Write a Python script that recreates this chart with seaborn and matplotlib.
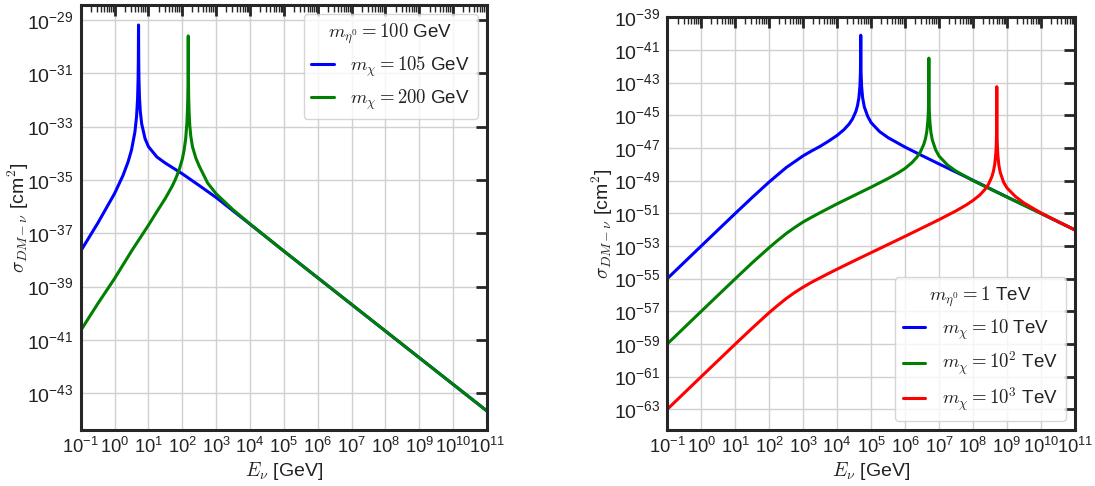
import numpy as np
import pandas as pd
import matplotlib
matplotlib.use("Agg")
import matplotlib.pyplot as plt
import matplotlib.ticker as mticker
import seaborn as sns

# ---------------- data (log10 values) ----------------
# Left panel: m_eta0 = 100 GeV
L_blue_logE = [-1.0, -0.5, 0.0, 0.25, 0.4, 0.5, 0.6, 0.65, 0.68, 0.695, 0.702, 0.705, 0.7076,
               0.7105, 0.714, 0.72, 0.735, 0.76, 0.8, 0.9, 1.0, 1.25, 1.5, 1.75, 2.0, 2.5, 3.0, 3.5,
               4.0, 5.0, 6.0, 8.0, 11.0]
L_blue_logS = [-37.67, -36.63, -35.51, -34.83, -34.32, -33.88, -33.21, -32.62, -31.95, -31.25, -30.54, -29.86, -29.19,
               -29.99, -30.65, -31.22, -31.9, -32.43, -32.89, -33.45, -33.75, -34.14, -34.37, -34.57, -34.77, -35.21, -35.66, -36.16,
               -36.66, -37.67, -38.67, -40.67, -43.67]
L_green_logE = [-1.0, -0.5, 0.0, 0.5, 1.0, 1.25, 1.5, 1.7, 1.8, 1.9, 2.0, 2.05, 2.1, 2.14, 2.16, 2.17, 2.174, 2.1761,
                2.178, 2.182, 2.19, 2.2, 2.22, 2.25, 2.3, 2.4, 2.5, 2.75, 3.0, 3.5, 4.0, 5.0, 6.0, 8.0, 11.0]
L_green_logS = [-40.65, -39.65, -38.7, -37.67, -36.7, -36.19, -35.69, -35.24, -34.97, -34.65, -34.22, -33.91, -33.46, -32.8, -32.1, -31.25, -30.29, -29.6,
                -30.29, -31.23, -31.96, -32.42, -32.94, -33.35, -33.75, -34.18, -34.48, -35.12, -35.52, -36.12, -36.65, -37.67, -38.67, -40.67, -43.67]

# Right panel: m_eta0 = 1 TeV
R_blue_logE = [-1.0, 0.0, 1.0, 1.5, 2.0, 2.25, 2.5, 2.75, 3.0, 3.25, 3.5, 3.75, 4.0, 4.2, 4.35, 4.45, 4.55, 4.6,
               4.64, 4.67, 4.685, 4.691, 4.6946, 4.698, 4.704, 4.72, 4.75, 4.8, 4.9, 5.0, 5.25, 5.5, 6.0, 6.5,
               7.0, 8.0, 9.0, 10.0, 11.0]
R_blue_logS = [-55.0, -53.0, -51.01, -50.03, -49.08, -48.64, -48.2, -47.84, -47.48, -47.18, -46.9, -46.58, -46.23, -45.88, -45.54, -45.23, -44.77, -44.4,
               -43.92, -43.23, -42.41, -41.56, -40.1, -41.5, -42.39, -43.25, -43.93, -44.49, -45.07, -45.45, -46.0, -46.37, -46.95, -47.47,
               -47.98, -48.98, -50.0, -51.0, -52.02]
R_green_logE = [-1.0, 0.0, 1.0, 1.5, 2.0, 2.25, 2.5, 2.75, 3.0, 3.25, 3.5, 3.75, 4.0, 4.5, 5.0, 5.5, 5.8, 6.0, 6.2, 6.35,
                6.45, 6.55, 6.6, 6.64, 6.67, 6.685, 6.694, 6.697, 6.699, 6.701, 6.704, 6.713, 6.73, 6.76, 6.8, 6.9,
                7.0, 7.25, 7.5, 8.0, 8.5, 9.0, 10.0, 11.0]
R_green_logS = [-59.0, -57.0, -55.01, -54.03, -53.1, -52.66, -52.24, -51.87, -51.53, -51.24, -50.96, -50.69, -50.42, -49.91, -49.4, -48.87, -48.52, -48.25, -47.9, -47.56,
                -47.24, -46.78, -46.43, -45.98, -45.36, -44.72, -43.83, -43.05, -41.5, -43.04, -43.83, -44.73, -45.41, -46.05, -46.5, -47.12,
                -47.5, -48.05, -48.42, -49.0, -49.51, -50.01, -51.01, -52.02]
R_red_logE = [-1.0, 0.0, 1.0, 1.5, 2.0, 2.25, 2.5, 2.75, 3.0, 3.25, 3.5, 3.75, 4.0, 4.5, 5.0, 5.5, 6.0, 6.5, 7.0, 7.5,
              7.8, 8.0, 8.2, 8.35, 8.45, 8.55, 8.6, 8.64, 8.67, 8.685, 8.694, 8.697, 8.699, 8.701, 8.704, 8.713,
              8.73, 8.76, 8.8, 8.9, 9.0, 9.25, 9.5, 10.0, 10.5, 11.0]
R_red_logS = [-63.0, -61.0, -59.01, -58.03, -57.08, -56.64, -56.22, -55.85, -55.52, -55.22, -54.95, -54.68, -54.42, -53.91, -53.41, -52.91, -52.41, -51.9, -51.39, -50.85,
              -50.49, -50.21, -49.88, -49.54, -49.24, -48.78, -48.43, -47.98, -47.36, -46.72, -45.83, -45.04, -43.25, -45.04, -45.83, -46.73,
              -47.45, -48.05, -48.5, -49.1, -49.45, -49.98, -50.37, -50.98, -51.51, -52.02]

left_labels = [r"$m_\chi = 105$ GeV", r"$m_\chi = 200$ GeV"]
left_title = r"$m_{\eta^0} = 100$ GeV"
right_labels = [r"$m_\chi = 10$ TeV", r"$m_\chi = 10^2$ TeV", r"$m_\chi = 10^3$ TeV"]
right_title = r"$m_{\eta^0} = 1$ TeV"
colors_left = ["blue", "green"]
colors_right = ["blue", "green", "red"]

left_ytick_exps = list(range(-43, -28, 2))
right_ytick_exps = list(range(-63, -38, 2))
xtick_exps = list(range(-1, 12))

# ---------------- style ----------------
sns.set_style("whitegrid")
plt.rcParams["font.family"] = ["Liberation Sans", "DejaVu Sans"]
plt.rcParams["mathtext.fontset"] = "cm"

fig = plt.figure(figsize=(10.95, 4.86), dpi=100)
axL = fig.add_axes([0.0737, 0.1152, 0.3711, 0.8745])
axR = fig.add_axes([0.6094, 0.1152, 0.3723, 0.8492])


def fmt(v, pos):
    e = int(round(np.log10(v)))
    return r"$\mathregular{10^{%d}}$" % e


def draw(ax, series, labels, colors, yexps, ylim_exp, title, loc, ylab_x):
    for (lx, ly), lab, c in zip(series, labels, colors):
        df = pd.DataFrame({"E": 10.0 ** np.array(lx), "S": 10.0 ** np.array(ly)})
        sns.lineplot(data=df, x="E", y="S", ax=ax, color=c, lw=2.2, label=lab,
                     estimator=None, sort=False)
    ax.set_xscale("log")
    ax.set_yscale("log")
    ax.set_xlim(10.0 ** xtick_exps[0], 10.0 ** xtick_exps[-1])
    ax.set_ylim(10.0 ** ylim_exp[0], 10.0 ** ylim_exp[1])
    ax.xaxis.set_major_locator(mticker.FixedLocator([10.0 ** e for e in xtick_exps]))
    ax.xaxis.set_minor_locator(mticker.LogLocator(base=10, subs=np.arange(2, 10), numticks=100))
    ax.xaxis.set_minor_formatter(mticker.NullFormatter())
    ax.yaxis.set_major_locator(mticker.FixedLocator([10.0 ** e for e in yexps]))
    ax.yaxis.set_minor_locator(mticker.NullLocator())
    ax.xaxis.set_major_formatter(mticker.FuncFormatter(fmt))
    ax.yaxis.set_major_formatter(mticker.FuncFormatter(fmt))
    ax.tick_params(which="both", direction="in", top=True, right=True, colors=".15",
                   labelcolor="#222222", pad=5)
    ax.tick_params(axis="y", labelsize=14)
    ax.tick_params(axis="x", labelsize=13.2)
    ax.tick_params(which="major", length=8, width=2)
    ax.tick_params(which="minor", length=5, width=1)
    ax.grid(True, which="major", color="#d0d0d0", lw=1.0)
    ax.grid(False, which="minor")
    for s in ax.spines.values():
        s.set_color("#262626")
        s.set_linewidth(2.2)
    ax.set_xlabel(r"$E_\nu$ [GeV]", fontsize=14, color="#222222", labelpad=2)
    ax.set_ylabel(r"$\sigma_{DM-\nu}$ [cm$^2$]", fontsize=14, color="#222222")
    ax.yaxis.set_label_coords(ylab_x, 0.5)
    leg = ax.legend(title=title, loc=loc, fontsize=13.5, title_fontsize=13.5,
                    handlelength=1.2, frameon=True, framealpha=0.8, edgecolor="#cccccc",
                    borderpad=0.4, labelspacing=0.45, handletextpad=0.9)
    for t in leg.get_texts():
        t.set_color("#222222")
    leg.get_title().set_color("#222222")


draw(axL, [(L_blue_logE, L_blue_logS), (L_green_logE, L_green_logS)], left_labels,
     colors_left, left_ytick_exps, (-44.38, -28.44), left_title, "upper right", -0.123)
draw(axR, [(R_blue_logE, R_blue_logS), (R_green_logE, R_green_logS), (R_red_logE, R_red_logS)],
     right_labels, colors_right, right_ytick_exps, (-64.27, -39.0), right_title, "lower right", -0.128)

fig.savefig("out.png", dpi=100)
